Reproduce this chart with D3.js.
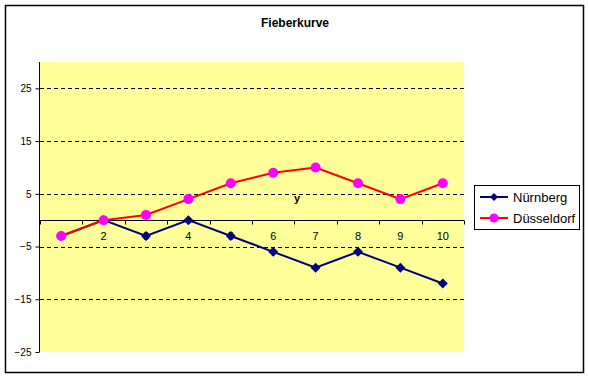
<!DOCTYPE html>
<html>
<head>
<meta charset="utf-8">
<script src="https://cdn.jsdelivr.net/npm/d3@7"></script>
<style>
	body { margin: 0; background: #fff; }
	svg text { font-family: "Liberation Sans", Arial, sans-serif; fill: #000; }
</style>
</head>
<body>
<div class="chart-container"></div>
<script>
// data
const categories = [1, 2, 3, 4, 5, 6, 7, 8, 9, 10];
const nuernberg = [-3, 0, -3, 0, -3, -6, -9, -6, -9, -12];
const duesseldorf = [-3, 0, 1, 4, 7, 9, 10, 7, 4, 7];
const yTicks = [-25, -15, -5, 5, 15, 25];
const seriesNames = ['Nürnberg', 'Düsseldorf'];

const outerW = 589,
	outerH = 378;

const plot = { left: 40, right: 464, top: 62, bottom: 352 };

const svg = d3.select('.chart-container').append('svg')
	.attr('width', outerW)
	.attr('height', outerH);

// chart frame
svg.append('rect')
	.attr('x', 5.5).attr('y', 5.5)
	.attr('width', 578).attr('height', 367)
	.attr('fill', '#fff')
	.attr('stroke', '#000')
	.attr('stroke-width', 1.5);

svg.append('text')
	.attr('x', 295).attr('y', 27)
	.attr('text-anchor', 'middle')
	.style('font-size', '12px')
	.style('font-weight', 'bold')
	.text('Fieberkurve');

const x = d3.scaleBand().domain(categories).range([plot.left, plot.right]);
const y = d3.scaleLinear().domain([-25, 30]).range([plot.bottom, plot.top]);

// plot area
svg.append('rect')
	.attr('x', plot.left).attr('y', plot.top)
	.attr('width', plot.right - plot.left)
	.attr('height', plot.bottom - plot.top)
	.attr('fill', '#FFFF99');

// gridlines
svg.append('g').attr('class', 'grid')
	.selectAll('line')
	.data(yTicks.filter(d => d > -25))
	.enter().append('line')
	.attr('x1', plot.left).attr('x2', plot.right)
	.attr('y1', d => Math.round(y(d)) + 0.5)
	.attr('y2', d => Math.round(y(d)) + 0.5)
	.attr('stroke', '#000')
	.attr('stroke-dasharray', '4,3');

// y axis
const yAxis = svg.append('g')
	.attr('class', 'y axis')
	.attr('transform', `translate(${plot.left - 0.5}, 0)`)
	.call(d3.axisLeft(y)
		.tickValues(yTicks)
		.tickSizeInner(4)
		.tickSizeOuter(0)
		.tickPadding(4)
	);
yAxis.select('.domain').attr('d', `M0,${plot.top}V${plot.bottom}`);
yAxis.selectAll('text').style('font-size', '10px');

// x axis at y = 0
const y0 = Math.round(y(0)) + 0.5;
const xAxis = svg.append('g')
	.attr('class', 'x axis')
	.attr('transform', `translate(0, ${y0})`)
	.call(d3.axisBottom(x)
		.tickSize(0)
		.tickPadding(12)
	);
xAxis.select('.domain').attr('d', `M${plot.left},0H${plot.right}`);
xAxis.selectAll('text').style('font-size', '11px');

xAxis.selectAll('.boundary')
	.data(categories.map(c => x(c)).concat([plot.right]))
	.enter().append('line')
	.attr('class', 'boundary')
	.attr('x1', d => Math.round(d) + 0.5)
	.attr('x2', d => Math.round(d) + 0.5)
	.attr('y1', 0).attr('y2', 4)
	.attr('stroke', '#000');

svg.append('text')
	.attr('x', 297).attr('y', 202)
	.attr('text-anchor', 'middle')
	.style('font-size', '11px')
	.style('font-weight', 'bold')
	.text('y');

// series
const cx = c => x(c) + x.bandwidth() / 2;
const line = d3.line()
	.x((d, i) => cx(categories[i]))
	.y(d => y(d));

const diamond = 'M0,-5L5,0L0,5L-5,0Z';

svg.append('path')
	.datum(nuernberg)
	.attr('d', line)
	.attr('fill', 'none')
	.attr('stroke', '#000080')
	.attr('stroke-width', 2);

svg.append('g').selectAll('path')
	.data(nuernberg)
	.enter().append('path')
	.attr('d', diamond)
	.attr('transform', (d, i) => `translate(${cx(categories[i])}, ${y(d)})`)
	.attr('fill', '#000080');

svg.append('path')
	.datum(duesseldorf)
	.attr('d', line)
	.attr('fill', 'none')
	.attr('stroke', '#FF0000')
	.attr('stroke-width', 2);

svg.append('g').selectAll('circle')
	.data(duesseldorf)
	.enter().append('circle')
	.attr('cx', (d, i) => cx(categories[i]))
	.attr('cy', d => y(d))
	.attr('r', 5)
	.attr('fill', '#FF00FF');

// legend
const legend = svg.append('g').attr('class', 'legend');
legend.append('rect')
	.attr('x', 474.5).attr('y', 185.5)
	.attr('width', 105).attr('height', 44)
	.attr('fill', '#fff')
	.attr('stroke', '#000');

const colors = ['#000080', '#FF0000'];
const markColors = ['#000080', '#FF00FF'];
seriesNames.forEach((name, i) => {
	const ly = 197 + i * 21;
	legend.append('line')
		.attr('x1', 480).attr('x2', 508)
		.attr('y1', ly).attr('y2', ly)
		.attr('stroke', colors[i])
		.attr('stroke-width', 2);
	if (i === 0) {
		legend.append('path')
			.attr('d', 'M0,-4L4,0L0,4L-4,0Z')
			.attr('transform', `translate(494, ${ly})`)
			.attr('fill', markColors[i]);
	} else {
		legend.append('circle')
			.attr('cx', 494).attr('cy', ly).attr('r', 4.5)
			.attr('fill', markColors[i]);
	}
	legend.append('text')
		.attr('x', 513).attr('y', ly + 4.5)
		.style('font-size', '13px')
		.text(name);
});
</script>
</body>
</html>
